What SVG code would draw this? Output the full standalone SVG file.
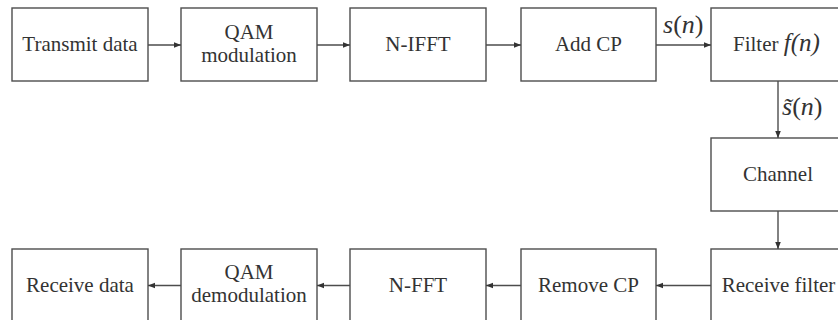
<svg xmlns="http://www.w3.org/2000/svg" width="838" height="320" viewBox="0 0 838 320">
  <style>
    .box { fill: #ffffff; stroke: #4d4d4d; stroke-width: 1.4; }
    .lbl { font-family: "Liberation Serif", "DejaVu Serif", serif; font-size: 21px; fill: #333333; text-anchor: middle; }
    .lbl-left { font-family: "Liberation Serif", "DejaVu Serif", serif; font-size: 21px; fill: #333333; text-anchor: start; }
    .math { font-family: "Liberation Serif", "DejaVu Serif", serif; font-size: 26px; fill: #333333; }
    .it { font-style: italic; }
    .wire { fill: none; stroke: #4d4d4d; stroke-width: 1.4; }
  </style>
  <defs>
    <marker id="arrow" viewBox="0 0 10 10" refX="10" refY="5" markerWidth="7" markerHeight="7" markerUnits="userSpaceOnUse" orient="auto">
      <path d="M0,1 L10,5 L0,9 Z" fill="#333333"/>
    </marker>
  </defs>
  <rect width="838" height="320" fill="#ffffff"/>

  <!-- transmitter chain -->
  <g id="transmit-data">
    <rect class="box" x="12" y="8" width="136" height="73"/>
    <text class="lbl" x="80" y="51">Transmit data</text>
  </g>
  <g id="qam-mod">
    <rect class="box" x="181" y="8" width="136" height="73"/>
    <text class="lbl" x="249" y="39">QAM</text>
    <text class="lbl" x="249" y="62">modulation</text>
  </g>
  <g id="n-ifft">
    <rect class="box" x="350" y="8" width="136" height="73"/>
    <text class="lbl" x="418" y="51">N-IFFT</text>
  </g>
  <g id="add-cp">
    <rect class="box" x="521" y="8" width="135" height="73"/>
    <text class="lbl" x="588.5" y="51">Add CP</text>
  </g>
  <g id="filter">
    <rect class="box" x="711" y="8" width="136" height="73"/>
    <text class="lbl-left" x="733" y="51">Filter <tspan class="it" font-size="25">f(n)</tspan></text>
  </g>

  <!-- channel -->
  <g id="channel">
    <rect class="box" x="711" y="138" width="136" height="73"/>
    <text class="lbl" x="778" y="181">Channel</text>
  </g>

  <!-- receiver chain -->
  <g id="receive-filter">
    <rect class="box" x="711" y="249" width="136" height="73"/>
    <text class="lbl" x="778.5" y="292">Receive filter</text>
  </g>
  <g id="remove-cp">
    <rect class="box" x="521" y="249" width="135" height="73"/>
    <text class="lbl" x="588.5" y="292">Remove CP</text>
  </g>
  <g id="n-fft">
    <rect class="box" x="350" y="249" width="136" height="73"/>
    <text class="lbl" x="418" y="292">N-FFT</text>
  </g>
  <g id="qam-demod">
    <rect class="box" x="181" y="249" width="136" height="73"/>
    <text class="lbl" x="249" y="279">QAM</text>
    <text class="lbl" x="249" y="302">demodulation</text>
  </g>
  <g id="receive-data">
    <rect class="box" x="12" y="249" width="136" height="73"/>
    <text class="lbl" x="80" y="292">Receive data</text>
  </g>

  <!-- connectors -->
  <g id="connectors">
    <line class="wire" x1="148" y1="45" x2="181" y2="45" marker-end="url(#arrow)"/>
    <line class="wire" x1="317" y1="45" x2="350" y2="45" marker-end="url(#arrow)"/>
    <line class="wire" x1="486" y1="45" x2="521" y2="45" marker-end="url(#arrow)"/>
    <line class="wire" x1="656" y1="45" x2="711" y2="45" marker-end="url(#arrow)"/>
    <line class="wire" x1="778" y1="81" x2="778" y2="138" marker-end="url(#arrow)"/>
    <line class="wire" x1="778" y1="211" x2="778" y2="249" marker-end="url(#arrow)"/>
    <line class="wire" x1="711" y1="285.5" x2="656" y2="285.5" marker-end="url(#arrow)"/>
    <line class="wire" x1="521" y1="285.5" x2="486" y2="285.5" marker-end="url(#arrow)"/>
    <line class="wire" x1="350" y1="285.5" x2="317" y2="285.5" marker-end="url(#arrow)"/>
    <line class="wire" x1="181" y1="285.5" x2="148" y2="285.5" marker-end="url(#arrow)"/>

    <!-- signal labels -->
    <text class="math" x="663" y="33"><tspan class="it">s</tspan>(<tspan class="it">n</tspan>)</text>
    <text class="math" x="782" y="115" font-size="25"><tspan class="it">s̃</tspan>(<tspan class="it">n</tspan>)</text>
  </g>
</svg>
